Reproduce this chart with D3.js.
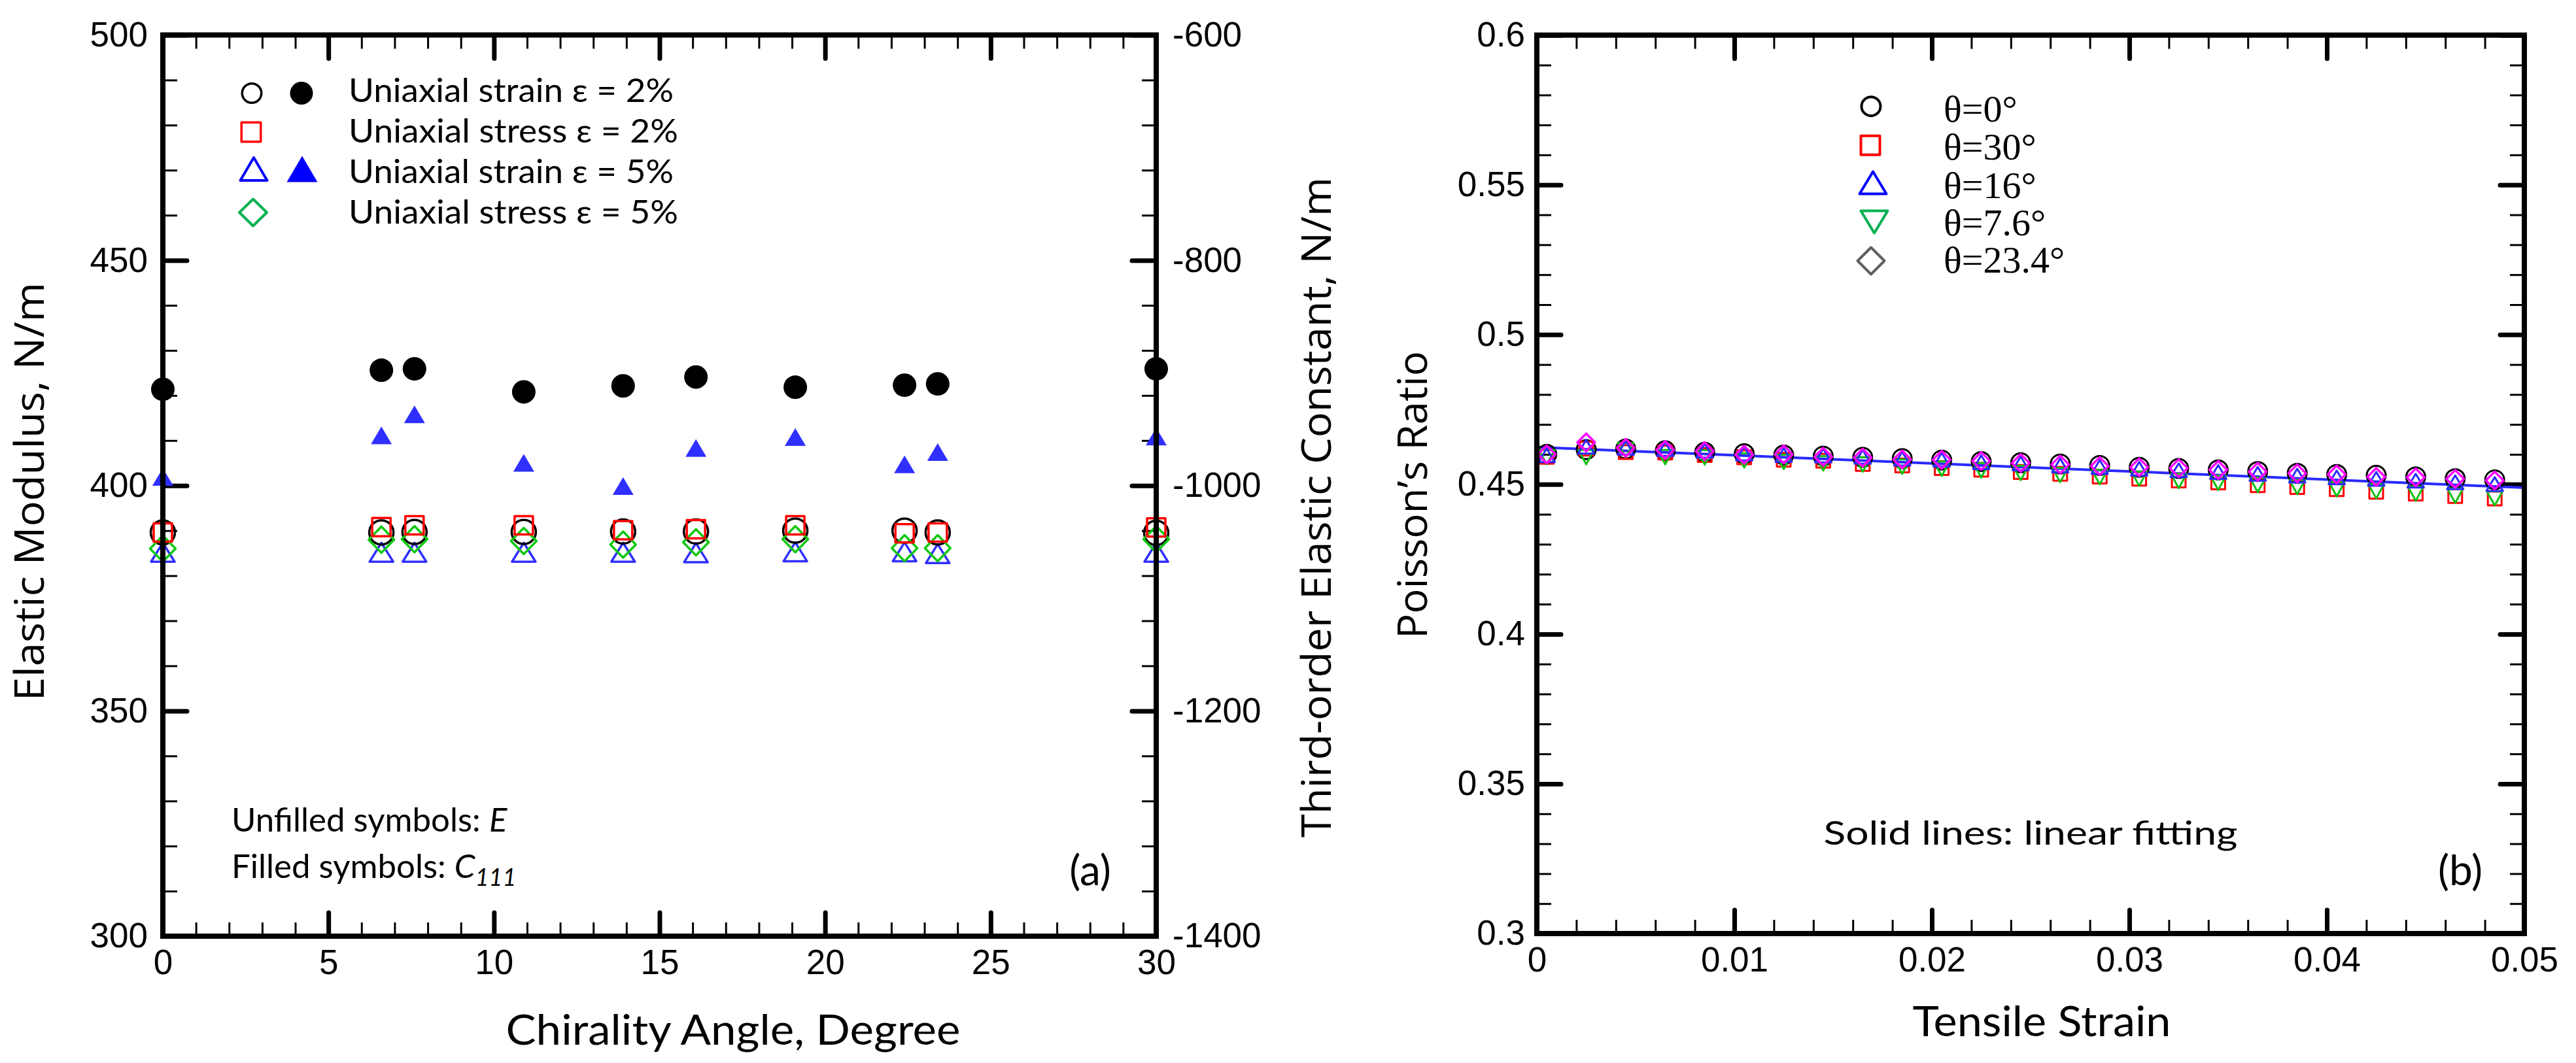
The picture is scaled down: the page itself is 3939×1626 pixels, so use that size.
<!DOCTYPE html>
<html>
<head>
<meta charset="utf-8">
<script src="https://cdn.jsdelivr.net/npm/d3@7"></script>
<style>
  html, body { margin: 0; padding: 0; background: #fff; }
  svg { display: block; }
  .tick text { font-family: "Liberation Sans", Arial, sans-serif; font-size: 53px; fill: #000; }
  .calib { font-family: Lato, "Noto Sans", sans-serif; fill: #000; }
  .title { font-family: "Open Sans", "Noto Sans", sans-serif; fill: #000; }
  .serif { font-family: "Liberation Serif", "Times New Roman", serif; fill: #000; }
</style>
</head>
<body>
<svg id="chart" width="3939" height="1626"></svg>
<script>
// ---- panel (a): moduli vs chirality angle
var angles = [0, 6.6, 7.6, 10.9, 13.9, 16.1, 19.1, 22.4, 23.4, 30];
var eStrain2 = [389.6, 389.6, 389.7, 389.7, 389.8, 389.8, 390.0, 390.0, 389.6, 389.5];
var eStress2 = [389.6, 390.8, 391.2, 391.2, 390.1, 390.3, 391.2, 389.4, 389.6, 390.7];
var eStrain5 = [385.2, 385.2, 385.2, 385.2, 385.2, 385.1, 385.3, 385.3, 384.9, 385.2];
var eStress5 = [386.0, 388.0, 388.1, 387.7, 386.9, 387.4, 388.1, 386.1, 386.1, 388.1];
var c111Strain2 = [-914.5, -897.6, -896.4, -916.8, -911.5, -903.6, -912.7, -910.9, -909.7, -896.4];
var c111Strain5 = [-992.3, -955.5, -936.7, -979.8, -1000.4, -966.6, -956.9, -981.2, -970.2, -956.5];

var xTicksA = [0, 5, 10, 15, 20, 25, 30];
var yTicksA = [300, 350, 400, 450, 500];
var y2TicksA = [-1400, -1200, -1000, -800, -600];
var legendA = ["Uniaxial strain \u03b5 = 2%", "Uniaxial stress \u03b5 = 2%", "Uniaxial strain \u03b5 = 5%", "Uniaxial stress \u03b5 = 5%"];

// ---- panel (b): Poisson's ratio vs tensile strain
var strain = [0.0005, 0.0025, 0.0045, 0.0065, 0.0085, 0.0105, 0.0125, 0.0145, 0.0165, 0.0185,
              0.0205, 0.0225, 0.0245, 0.0265, 0.0285, 0.0305, 0.0325, 0.0345, 0.0365, 0.0385,
              0.0405, 0.0425, 0.0445, 0.0465, 0.0485];
var nu0 = [0.4600, 0.4616, 0.4618, 0.4612, 0.4607, 0.4602, 0.4598, 0.4594, 0.4590, 0.4586,
           0.4581, 0.4576, 0.4572, 0.4568, 0.4563, 0.4557, 0.4553, 0.4548, 0.4543, 0.4537,
           0.4533, 0.4530, 0.4525, 0.4519, 0.4515];
var nu30 = [0.4592, 0.4619, 0.4608, 0.4606, 0.4598, 0.4590, 0.4582, 0.4579, 0.4568, 0.4563,
            0.4554, 0.4549, 0.4541, 0.4535, 0.4526, 0.4519, 0.4513, 0.4506, 0.4497, 0.4491,
            0.4484, 0.4475, 0.4469, 0.4461, 0.4453];
var nu16 = [0.4597, 0.4626, 0.4622, 0.4618, 0.4612, 0.4603, 0.4598, 0.4596, 0.4592, 0.4586,
            0.4582, 0.4574, 0.4570, 0.4563, 0.4558, 0.4552, 0.4547, 0.4541, 0.4535, 0.4529,
            0.4523, 0.4518, 0.4512, 0.4507, 0.4501];
var nu76 = [0.4591, 0.4591, 0.4614, 0.4591, 0.4590, 0.4580, 0.4575, 0.4570, 0.4566, 0.4559,
            0.4552, 0.4547, 0.4538, 0.4531, 0.4524, 0.4519, 0.4511, 0.4505, 0.4498, 0.4491,
            0.4484, 0.4477, 0.4469, 0.4462, 0.4453];
var nu234 = [0.4600, 0.4640, 0.4622, 0.4615, 0.4611, 0.4599, 0.4600, 0.4592, 0.4589, 0.4583,
             0.4582, 0.4578, 0.4571, 0.4566, 0.4561, 0.4557, 0.4554, 0.4548, 0.4542, 0.4537,
             0.4533, 0.4525, 0.4523, 0.4518, 0.4513];
var fitStrain = [0, 0.05];
var fitNu = [0.4624, 0.4489];

var xTicksB = [0, 0.01, 0.02, 0.03, 0.04, 0.05];
var yTicksB = [0.3, 0.35, 0.4, 0.45, 0.5, 0.55, 0.6];
var legendB = ["\u03b8=0\u00b0", "\u03b8=30\u00b0", "\u03b8=16\u00b0", "\u03b8=7.6\u00b0", "\u03b8=23.4\u00b0"];

var svg = d3.select("#chart");
svg.append("rect").attr("width", 3939).attr("height", 1626).attr("fill", "#fff");

var xA = d3.scaleLinear().domain([0, 30]).range([249, 1768]);
var yA = d3.scaleLinear().domain([300, 500]).range([1432, 53.5]);
var yA2 = d3.scaleLinear().domain([-1400, -600]).range([1432, 53.5]);
var xB = d3.scaleLinear().domain([0, 0.05]).range([2350, 3860]);
var yB = d3.scaleLinear().domain([0.3, 0.6]).range([1428, 53.7]);

// inward ticks, labels optional
function ticks(axisFn, scale, tx, ty, values, size, width, pad, fmt) {
  var ax = axisFn(scale).tickValues(values).tickSizeInner(-size).tickSizeOuter(0)
    .tickPadding(pad || 0).tickFormat(fmt || function () { return ""; });
  var g = svg.append("g").attr("transform", "translate(" + tx + "," + ty + ")").call(ax);
  g.select(".domain").remove();
  g.selectAll(".tick line").attr("stroke", "#000").attr("stroke-width", width)
    .attr("stroke-linecap", width > 4 ? "round" : "butt");
  if (!fmt) g.selectAll(".tick text").remove();
  return g;
}
function num(d) { return String(d); }

function frame(x, y) {
  svg.append("rect")
    .attr("x", x.range()[0]).attr("y", y.range()[1])
    .attr("width", x.range()[1] - x.range()[0]).attr("height", y.range()[0] - y.range()[1])
    .attr("fill", "none").attr("stroke", "#000").attr("stroke-width", 8);
}

// all four sides of a panel get inward ticks; labels on left / bottom
function panelTicks(x, y, xMajor, xMinorN, yMajor, yMinorN, padX, padY) {
  var yTop = y.range()[1], yBot = y.range()[0], xL = x.range()[0], xR = x.range()[1];
  ticks(d3.axisBottom, x, 0, yBot, x.ticks(xMinorN), 21, 3);
  ticks(d3.axisBottom, x, 0, yBot, xMajor, 36, 7, padX, num);
  ticks(d3.axisTop, x, 0, yTop, x.ticks(xMinorN), 21, 3);
  ticks(d3.axisTop, x, 0, yTop, xMajor, 36, 7);
  ticks(d3.axisLeft, y, xL, 0, y.ticks(yMinorN), 22, 3);
  ticks(d3.axisLeft, y, xL, 0, yMajor, 37, 7, padY, num);
  ticks(d3.axisRight, y, xR, 0, y.ticks(yMinorN), 22, 3);
}

function shape(type, w, h) {
  var a = w / 2, b = h / 2;
  if (type === "square") return "M" + (-a) + "," + (-b) + "H" + a + "V" + b + "H" + (-a) + "Z";
  if (type === "up") return "M0," + (-b) + "L" + a + "," + b + "L" + (-a) + "," + b + "Z";
  if (type === "down") return "M" + (-a) + "," + (-b) + "L" + a + "," + (-b) + "L0," + b + "Z";
  if (type === "diamond") return "M0," + (-b) + "L" + a + ",0L0," + b + "L" + (-a) + ",0Z";
  return "M" + (-a) + ",0A" + a + "," + b + " 0 1,0 " + a + ",0A" + a + "," + b + " 0 1,0 " + (-a) + ",0Z";
}

function series(xs, ys, sx, sy, type, w, h, color, filled, sw) {
  svg.append("g").selectAll("path").data(xs).join("path")
    .attr("transform", function (d, i) { return "translate(" + sx(d) + "," + sy(ys[i]) + ")"; })
    .attr("d", shape(type, w, h))
    .attr("fill", filled ? color : "none")
    .attr("stroke", filled ? "none" : color)
    .attr("stroke-width", sw)
    .attr("stroke-linejoin", "round");
}

function marker(x, y, type, w, h, color, filled, sw) {
  svg.append("path").attr("transform", "translate(" + x + "," + y + ")")
    .attr("d", shape(type, w, h))
    .attr("fill", filled ? color : "none")
    .attr("stroke", filled ? "none" : color)
    .attr("stroke-width", sw).attr("stroke-linejoin", "round");
}

function label(x, y, txt, cls, size, anchor, width) {
  var t = svg.append("text").attr("class", cls).attr("x", x).attr("y", y)
    .attr("font-size", size).attr("text-anchor", anchor || "start").text(txt);
  if (width) t.attr("textLength", width).attr("lengthAdjust", "spacingAndGlyphs");
  return t;
}

function vlabel(cx, cy, txt, size, width) {
  svg.append("text").attr("class", "title")
    .attr("transform", "translate(" + cx + "," + cy + ") rotate(-90)")
    .attr("text-anchor", "middle").attr("dy", "0.36em")
    .attr("font-size", size).attr("textLength", width).attr("lengthAdjust", "spacingAndGlyphs")
    .text(txt);
}

// ================= panel (a)
panelTicks(xA, yA, xTicksA, 30, yTicksA, 20, 20, 23);
// right axis carries its own scale (C111)
ticks(d3.axisRight, yA2, xA.range()[1], 0, y2TicksA, 37, 7, 25, num);

series(angles, c111Strain2, xA, yA2, "circle", 36, 36, "#000", true, 0);
series(angles, c111Strain5, xA, yA2, "up", 32, 27, "#2f2fff", true, 0);
series(angles, eStrain5, xA, yA, "up", 36, 29, "#2f2fff", false, 3.5);
series(angles, eStrain2, xA, yA, "circle", 37, 37, "#000", false, 3.5);
series(angles, eStress5, xA, yA, "diamond", 39, 40, "#10c810", false, 3.5);
series(angles, eStress2, xA, yA, "square", 28, 28, "#ff0000", false, 3.5);
frame(xA, yA);

// legend (a)
var legRowsA = [142.5, 202, 258.5, 325];
var legBaseA = [156, 218, 280, 342];
marker(385, legRowsA[0], "circle", 29.5, 29.5, "#000", false, 3.5);
marker(461, legRowsA[0], "circle", 35, 35, "#000", true, 0);
marker(384, legRowsA[1], "square", 29.5, 29.5, "#ff0000", false, 3.5);
marker(388, legRowsA[2], "up", 41, 35, "#0000ff", false, 4);
marker(462, legRowsA[2], "up", 47, 40, "#0000ff", true, 0);
marker(387, legRowsA[3], "diamond", 42, 41, "#00b050", false, 4);
var legWA = [497, 504, 497, 504];
legendA.forEach(function (s, i) { label(533, legBaseA[i], s, "calib", 51, "start", legWA[i]); });

var un = label(354, 1272, "Unfilled symbols: ", "calib", 51, "start");
un.append("tspan").attr("font-style", "italic").text("E");
var fi = label(354, 1343, "Filled symbols: ", "calib", 51, "start");
fi.append("tspan").attr("font-style", "italic").text("C");
fi.append("tspan").attr("font-style", "italic").attr("font-size", 36).attr("dy", 12).text("111");
label(1667, 1354, "(a)", "calib", 64, "middle");

vlabel(45, 752, "Elastic Modulus, N/m", 62, 640);
vlabel(2013, 776, "Third-order Elastic Constant, N/m", 62, 1010);
label(1121, 1598, "Chirality Angle, Degree", "calib", 64, "middle", 695);

// ================= panel (b)
panelTicks(xB, yB, xTicksB, 25, yTicksB, 30, 20, 18);
ticks(d3.axisRight, yB, xB.range()[1], 0, yTicksB, 37, 7);

var fitLine = d3.line()
  .x(function (d) { return xB(d); })
  .y(function (d, i) { return yB(fitNu[i]); });
svg.append("path").datum(fitStrain).attr("d", fitLine)
  .attr("fill", "none").attr("stroke", "#2a2aff").attr("stroke-width", 4);

series(strain, nu0, xB, yB, "circle", 29, 29, "#000", false, 3);
series(strain, nu30, xB, yB, "square", 21, 21, "#ff0000", false, 3);
series(strain, nu76, xB, yB, "down", 24, 22, "#10c010", false, 3);
series(strain, nu16, xB, yB, "up", 25, 21, "#2a2aff", false, 3);
series(strain, nu234, xB, yB, "diamond", 27, 27, "#ff00ff", false, 3.5);
frame(xB, yB);

// legend (b)
var legRowsB = [162.7, 222.3, 279.5, 339.5, 399];
var legBaseB = [186, 244.3, 302.7, 360, 416.7];
marker(2861, legRowsB[0], "circle", 29, 29, "#000", false, 4);
marker(2860, legRowsB[1], "square", 29, 29, "#ff0000", false, 4);
marker(2864, legRowsB[2], "up", 41, 34, "#0000ff", false, 4);
marker(2866, legRowsB[3], "down", 41, 34, "#00b050", false, 4);
marker(2861, legRowsB[4], "diamond", 41, 41, "#606060", false, 4);
legendB.forEach(function (s, i) { label(2972, legBaseB[i], s, "serif", 58, "start"); });

label(3105, 1292, "Solid lines: linear fitting", "calib", 51, "middle", 633);
label(3762, 1354, "(b)", "calib", 64, "middle");

vlabel(2160, 757, "Poisson\u2019s Ratio", 62, 440);
label(3122, 1585, "Tensile Strain", "calib", 64, "middle", 395);
</script>
</body>
</html>
